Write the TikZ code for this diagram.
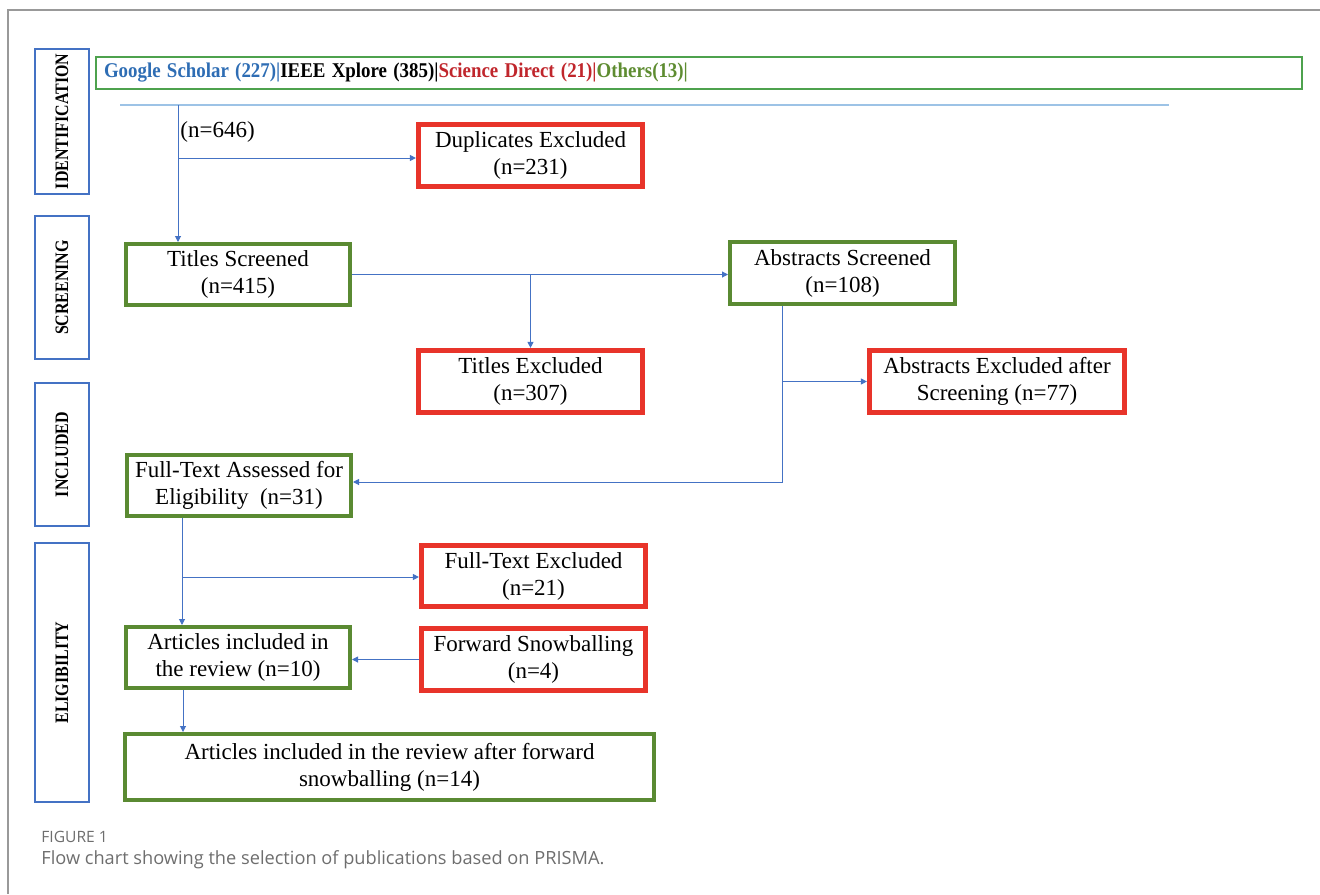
\documentclass[tikz,border=0pt]{standalone}
\usepackage{fontspec}
\setmainfont{Liberation Serif}
\newfontfamily\capfont{Open Sans}
\usetikzlibrary{arrows.meta}
\definecolor{stageblue}{HTML}{4472C4}
\definecolor{lineblue}{HTML}{9DC3E6}
\definecolor{hdgreen}{HTML}{4EA24E}
\definecolor{keepgreen}{HTML}{5A8A32}
\definecolor{dropred}{HTML}{E8342A}
\definecolor{gsblue}{HTML}{2E6DB4}
\definecolor{sdred}{HTML}{C0262C}
\definecolor{otgreen}{HTML}{5E8C31}
\definecolor{capgrey}{HTML}{6E6E6E}

\begin{document}
\begin{tikzpicture}[x=0.5pt, y=-0.5pt,
  stage/.style={draw=stageblue, line width=1.2pt, rotate=90, minimum height=27pt, inner sep=0pt, font=\fontsize{9.5}{10}\selectfont\bfseries},
  keep/.style={draw=keepgreen, line width=2pt, align=center, inner sep=1pt, font=\fontsize{11.5}{13.5}\selectfont},
  drop/.style={draw=dropred, line width=2.6pt, align=center, inner sep=1pt, font=\fontsize{11.5}{13.5}\selectfont},
  flow/.style={draw=stageblue, line width=0.5pt, -{Triangle[length=3pt,width=3pt]}},
  frame/.style={draw=black!40, line width=1pt}]
\useasboundingbox (0,0) rectangle (1320,894);
\draw[frame] (7,10) -- (1320,10);
\draw[frame] (8,10) -- (8,894);
% stages
\node[stage, minimum width=72.5pt] (ident) at (62,121.5) {\scalebox{.84}[1]{IDENTIFICATION}};
\node[stage, minimum width=71.5pt] (screen) at (62,287.5) {\scalebox{.84}[1]{SCREENING}};
\node[stage, minimum width=71.5pt] (incl) at (62,454.5) {\scalebox{.84}[1]{INCLUDED}};
\node[stage, minimum width=129.5pt] (elig) at (62,672.5) {\scalebox{.84}[1]{ELIGIBILITY}};
% sources
\node[draw=hdgreen, line width=1pt, minimum height=16pt, text width=595pt, inner xsep=4pt, font=\fontsize{10.5}{11}\selectfont\bfseries] (sources) at (699,73) {\scalebox{.9}[1]{\textcolor{gsblue}{Google Scholar (227)|}IEEE Xplore (385)|\textcolor{sdred}{Science Direct (21)|}\textcolor{otgreen}{Others(13)|}}};
\coordinate (lineL) at (120,105);
\coordinate (lineR) at (1169,105);
\draw[draw=lineblue, line width=1pt] (lineL) -- (lineR);
\node[anchor=west, inner sep=1pt, font=\fontsize{11.5}{13.5}\selectfont] (total) at (178,132) {(n=646)};
% boxes
\node[drop, minimum width=112pt, minimum height=31pt] (dup) at (530.5,155.5) {Duplicates Excluded\\(n=231)};
\node[keep, minimum width=112pt, minimum height=30.5pt] (titles) at (238,274.5) {Titles Screened\\(n=415)};
\node[drop, minimum width=112pt, minimum height=31pt] (titlesex) at (530.5,381.5) {Titles Excluded\\(n=307)};
\node[keep, minimum width=112.5pt, minimum height=31pt] (abs) at (842.5,273) {Abstracts Screened\\(n=108)};
\node[drop, minimum width=127.5pt, minimum height=31pt] (absex) at (997,381.5) {Abstracts Excluded after\\Screening (n=77)};
\node[keep, minimum width=112pt, minimum height=30.5pt] (fulltext) at (239,485.5) {Full-Text Assessed for\\Eligibility\ \ (n=31)};
\node[drop, minimum width=112pt, minimum height=30.5pt] (ftex) at (533.5,576) {Full-Text Excluded\\(n=21)};
\node[drop, minimum width=112pt, minimum height=31pt] (fwd) at (533.5,659.5) {Forward Snowballing\\(n=4)};
\node[keep, minimum width=112pt, minimum height=30.5pt] (art) at (238,657.5) {Articles included in\\the review (n=10)};
\node[keep, minimum width=264.5pt, minimum height=33pt] (final) at (389.5,767) {Articles included in the review after forward\\snowballing (n=14)};
% connectors
\coordinate (split) at (178,105);
\coordinate (dupfork) at (178,158);
\coordinate (absdown) at (782,482);
\coordinate (ftdown) at (182,577);
\coordinate (artdown) at (183,731);
\draw[flow] (split) -- (split |- titles.north);
\draw[flow] (dupfork) -- (dupfork -| dup.west);
\draw[flow] (titles.east) -- (titles.east -| abs.west);
\draw[flow] (titlesex.north |- titles.east) -- (titlesex.north);
\draw[flow] (abs.south -| absdown) -- (absdown) -- (absdown -| fulltext.east);
\draw[flow] (absdown |- absex.west) -- (absex.west);
\draw[flow] (fulltext.south -| ftdown) -- (ftdown |- art.north);
\draw[flow] (ftdown) -- (ftdown -| ftex.west);
\draw[flow] (fwd.west) -- (fwd.west -| art.east);
\draw[flow] (art.south -| artdown) -- (artdown |- final.north);
% caption
\node[anchor=west, inner sep=0pt, text=capgrey, font=\capfont\fontsize{7.8}{9}\selectfont] (fig) at (41,837) {FIGURE 1};
\node[anchor=west, inner sep=0pt, text=capgrey, font=\capfont\fontsize{9.1}{10}\selectfont] (caption) at (41,860) {Flow chart showing the selection of publications based on PRISMA.};
\end{tikzpicture}
\end{document}
